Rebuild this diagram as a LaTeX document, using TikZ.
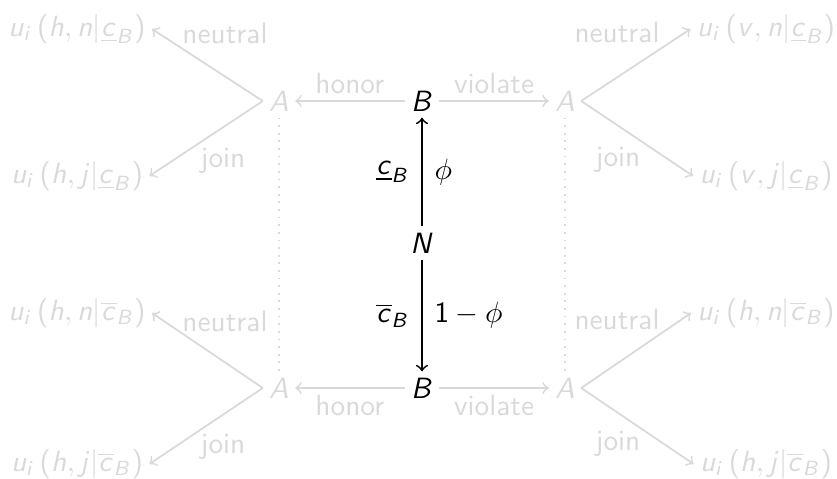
\documentclass[tikz,border=0pt]{standalone}

% sans serif math, letters in sans italic
\DeclareSymbolFont{sfitletters}{OT1}{cmss}{m}{sl}
\SetSymbolFont{operators}{normal}{OT1}{cmss}{m}{n}
\DeclareMathSymbol{u}{\mathalpha}{sfitletters}{`u}
\DeclareMathSymbol{i}{\mathalpha}{sfitletters}{`i}
\DeclareMathSymbol{h}{\mathalpha}{sfitletters}{`h}
\DeclareMathSymbol{n}{\mathalpha}{sfitletters}{`n}
\DeclareMathSymbol{j}{\mathalpha}{sfitletters}{`j}
\DeclareMathSymbol{v}{\mathalpha}{sfitletters}{`v}
\DeclareMathSymbol{c}{\mathalpha}{sfitletters}{`c}
\DeclareMathSymbol{A}{\mathalpha}{sfitletters}{`A}
\DeclareMathSymbol{B}{\mathalpha}{sfitletters}{`B}
\DeclareMathSymbol{N}{\mathalpha}{sfitletters}{`N}

\tikzset{
  faded/.style={black!15},
  gnode/.style={faded, inner sep=2pt},
  gedge/.style={faded, semithick, ->},
  cedge/.style={semithick, ->},
  elabel/.style={faded},
  plabel/.style={inner sep=4pt}
}

\begin{document}
\begin{tikzpicture}[
  x=0.012cm, y=-0.012cm,
  font=\sffamily,
  inner sep=2pt
]
  \useasboundingbox (0,0) rectangle (837,478);

  % chance node and the two B nodes
  \node (N) at (422,243) {$N$};
  \node (Bt) at (422,101) {$B$};
  \node (Bb) at (422,388) {$B$};

  % A nodes
  \node[gnode] (At1) at (279,101) {$A$};
  \node[gnode] (At2) at (565,101) {$A$};
  \node[gnode] (Ab1) at (279,388) {$A$};
  \node[gnode] (Ab2) at (565,388) {$A$};

  % payoffs
  \node[gnode] (ut1) at (77,29) {$u_i\left(h,n|\underline{c}_B\right)$};
  \node[gnode] (ut2) at (77,176) {$u_i\left(h,j|\underline{c}_B\right)$};
  \node[gnode] (ut3) at (766,29) {$u_i\left(v,n|\underline{c}_B\right)$};
  \node[gnode] (ut4) at (766,176) {$u_i\left(v,j|\underline{c}_B\right)$};
  \node[gnode] (ub1) at (77,313) {$u_i\left(h,n|\overline{c}_B\right)$};
  \node[gnode] (ub2) at (77,464) {$u_i\left(h,j|\overline{c}_B\right)$};
  \node[gnode] (ub3) at (766,313) {$u_i\left(h,n|\overline{c}_B\right)$};
  \node[gnode] (ub4) at (766,464) {$u_i\left(h,j|\overline{c}_B\right)$};

  % nature's move
  \draw[cedge] (N) -- node[plabel, left] {$\underline{c}_B$} node[plabel, right] {$\phi$} (Bt);
  \draw[cedge] (N) -- node[plabel, left] {$\overline{c}_B$} node[plabel, right] {$1-\phi$} (Bb);

  % B's move
  \draw[gedge] (Bt) -- node[elabel, above] {honor} (At1);
  \draw[gedge] (Bt) -- node[elabel, above] {violate} (At2);
  \draw[gedge] (Bb) -- node[elabel, below] {honor} (Ab1);
  \draw[gedge] (Bb) -- node[elabel, below] {violate} (Ab2);

  % information sets
  \draw[faded, semithick, dotted] (At1) -- (Ab1);
  \draw[faded, semithick, dotted] (At2) -- (Ab2);

  % A's move
  \draw[gedge] (At1.west) -- (ut1.east);
  \draw[gedge] (At1.west) -- (ut2.east);
  \draw[gedge] (At2.east) -- (ut3.west);
  \draw[gedge] (At2.east) -- (ut4.west);
  \draw[gedge] (Ab1.west) -- (ub1.east);
  \draw[gedge] (Ab1.west) -- (ub2.east);
  \draw[gedge] (Ab2.east) -- (ub3.west);
  \draw[gedge] (Ab2.east) -- (ub4.west);

  \node[elabel] (nt1) at (225,33) {neutral};
  \node[elabel] (jt1) at (223,161) {join};
  \node[elabel] (nt2) at (617,32) {neutral};
  \node[elabel] (jt2) at (618,160) {join};
  \node[elabel] (nb1) at (225,321) {neutral};
  \node[elabel] (jb1) at (223,447) {join};
  \node[elabel] (nb2) at (617,319) {neutral};
  \node[elabel] (jb2) at (618,444) {join};
\end{tikzpicture}
\end{document}
